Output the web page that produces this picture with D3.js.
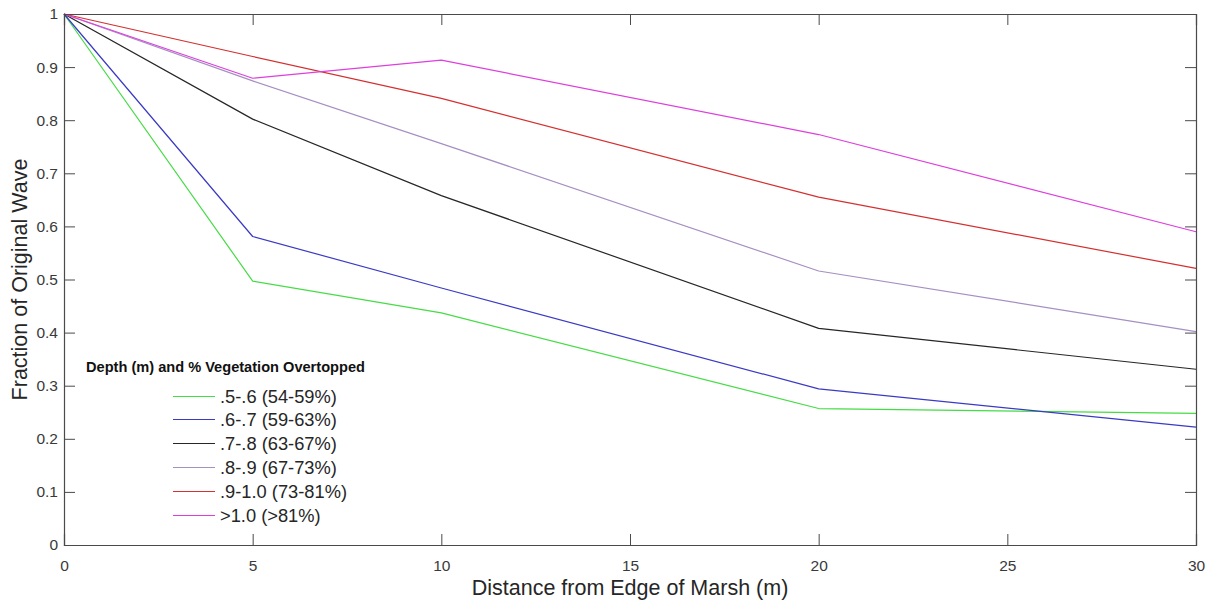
<!DOCTYPE html>
<html>
<head>
<meta charset="utf-8">
<script src="https://cdn.jsdelivr.net/npm/d3@7"></script>
<style>
  html, body { margin: 0; padding: 0; background: #fff; }
  svg { display: block; font-family: "Liberation Sans", Arial, Helvetica, sans-serif; }
</style>
</head>
<body>
<svg id="chart" width="1211" height="603"></svg>
<script>
// Distance from marsh edge (m) at which wave height was sampled
const distances = [0, 5, 10, 20, 30];

// Series labels (depth range and share of vegetation overtopped)
const seriesNames = [
  ".5-.6 (54-59%)",
  ".6-.7 (59-63%)",
  ".7-.8 (63-67%)",
  ".8-.9 (67-73%)",
  ".9-1.0 (73-81%)",
  ">1.0 (>81%)"
];

// Fraction of the original wave height remaining at each distance
const depth05to06 = [1, 0.497, 0.437, 0.257, 0.248];
const depth06to07 = [1, 0.581, 0.484, 0.294, 0.222];
const depth07to08 = [1, 0.802, 0.658, 0.408, 0.331];
const depth08to09 = [1, 0.874, 0.756, 0.516, 0.402];
const depth09to10 = [1, 0.920, 0.841, 0.655, 0.521];
const depthOver10 = [1, 0.879, 0.913, 0.773, 0.590];

const xTicks = [0, 5, 10, 15, 20, 25, 30];
const yTicks = [0, 0.1, 0.2, 0.3, 0.4, 0.5, 0.6, 0.7, 0.8, 0.9, 1];

const seriesValues = [depth05to06, depth06to07, depth07to08, depth08to09, depth09to10, depthOver10];
const seriesColors = ["#45dc45", "#3a3ac4", "#262626", "#a590c2", "#d43030", "#dd3fdd"];

const series = seriesNames.map((name, i) => ({
  name,
  color: seriesColors[i],
  points: distances.map((d, j) => ({ x: d, y: seriesValues[i][j] }))
}));

const svg = d3.select("#chart");
const plot = { left: 64, right: 1196, top: 14, bottom: 545 };

const x = d3.scaleLinear().domain([0, 30]).range([plot.left, plot.right]);
const y = d3.scaleLinear().domain([0, 1]).range([plot.bottom, plot.top]);

const axisColor = "#4a4a4a";
const tickLen = 11;

// Lines
const line = d3.line().x(d => x(d.x)).y(d => y(d.y));
svg.append("g")
  .selectAll("path")
  .data(series)
  .join("path")
  .attr("d", d => line(d.points))
  .attr("fill", "none")
  .attr("stroke", d => d.color)
  .attr("stroke-width", 1.2)
  .attr("stroke-linejoin", "round");

// Bottom axis (ticks point inward)
const xAxis = svg.append("g")
  .attr("transform", `translate(0,${plot.bottom})`)
  .call(d3.axisBottom(x).tickValues(xTicks).tickSize(-tickLen).tickPadding(tickLen + 12).tickFormat(d3.format("d")));
// Top axis mirror
const xAxisTop = svg.append("g")
  .attr("transform", `translate(0,${plot.top})`)
  .call(d3.axisTop(x).tickValues(xTicks).tickSize(-tickLen).tickFormat(""));
// Left axis
const yAxis = svg.append("g")
  .attr("transform", `translate(${plot.left},0)`)
  .call(d3.axisLeft(y).tickValues(yTicks).tickSize(-tickLen).tickPadding(6).tickFormat(d => d === 0 || d === 1 ? d3.format("d")(d) : d3.format(".1f")(d)));
// Right axis mirror
const yAxisRight = svg.append("g")
  .attr("transform", `translate(${plot.right},0)`)
  .call(d3.axisRight(y).tickValues(yTicks).tickSize(-tickLen).tickFormat(""));

[xAxis, xAxisTop, yAxis, yAxisRight].forEach(g => {
  g.select(".domain").attr("stroke", axisColor).attr("stroke-width", 1.2);
  g.selectAll(".tick line").attr("stroke", axisColor).attr("stroke-width", 1);
  g.selectAll(".tick text")
    .attr("fill", "#3a3a3a")
    .style("font-size", "15.5px")
    .style("font-family", "'Liberation Sans', Arial, sans-serif");
});
xAxis.selectAll(".tick text").attr("dy", "0.2em");

// Axis titles
svg.append("text")
  .attr("x", (plot.left + plot.right) / 2)
  .attr("y", 595)
  .attr("text-anchor", "middle")
  .attr("fill", "#262626")
  .style("font-size", "21.5px")
  .text("Distance from Edge of Marsh (m)");

svg.append("text")
  .attr("transform", `translate(27,${(plot.top + plot.bottom) / 2}) rotate(-90)`)
  .attr("text-anchor", "middle")
  .attr("fill", "#262626")
  .style("font-size", "21.5px")
  .text("Fraction of Original Wave");

// Legend
const legend = svg.append("g");
legend.append("text")
  .attr("x", 86)
  .attr("y", 372)
  .attr("fill", "#111")
  .style("font-size", "14.6px")
  .style("font-weight", "bold")
  .text("Depth (m) and % Vegetation Overtopped");

const rowStart = 395.5, rowStep = 23.8;
const rows = legend.selectAll("g.row")
  .data(series)
  .join("g")
  .attr("class", "row")
  .attr("transform", (d, i) => `translate(0,${Math.round(rowStart + i * rowStep) + 0.5})`);
rows.append("line")
  .attr("x1", 173).attr("x2", 215)
  .attr("y1", 0).attr("y2", 0)
  .attr("stroke", d => d.color)
  .attr("stroke-width", 1.2);
rows.append("text")
  .attr("x", 220)
  .attr("y", 0)
  .attr("dy", "0.36em")
  .attr("fill", "#262626")
  .style("font-size", "18.3px")
  .text(d => d.name);
</script>
</body>
</html>
